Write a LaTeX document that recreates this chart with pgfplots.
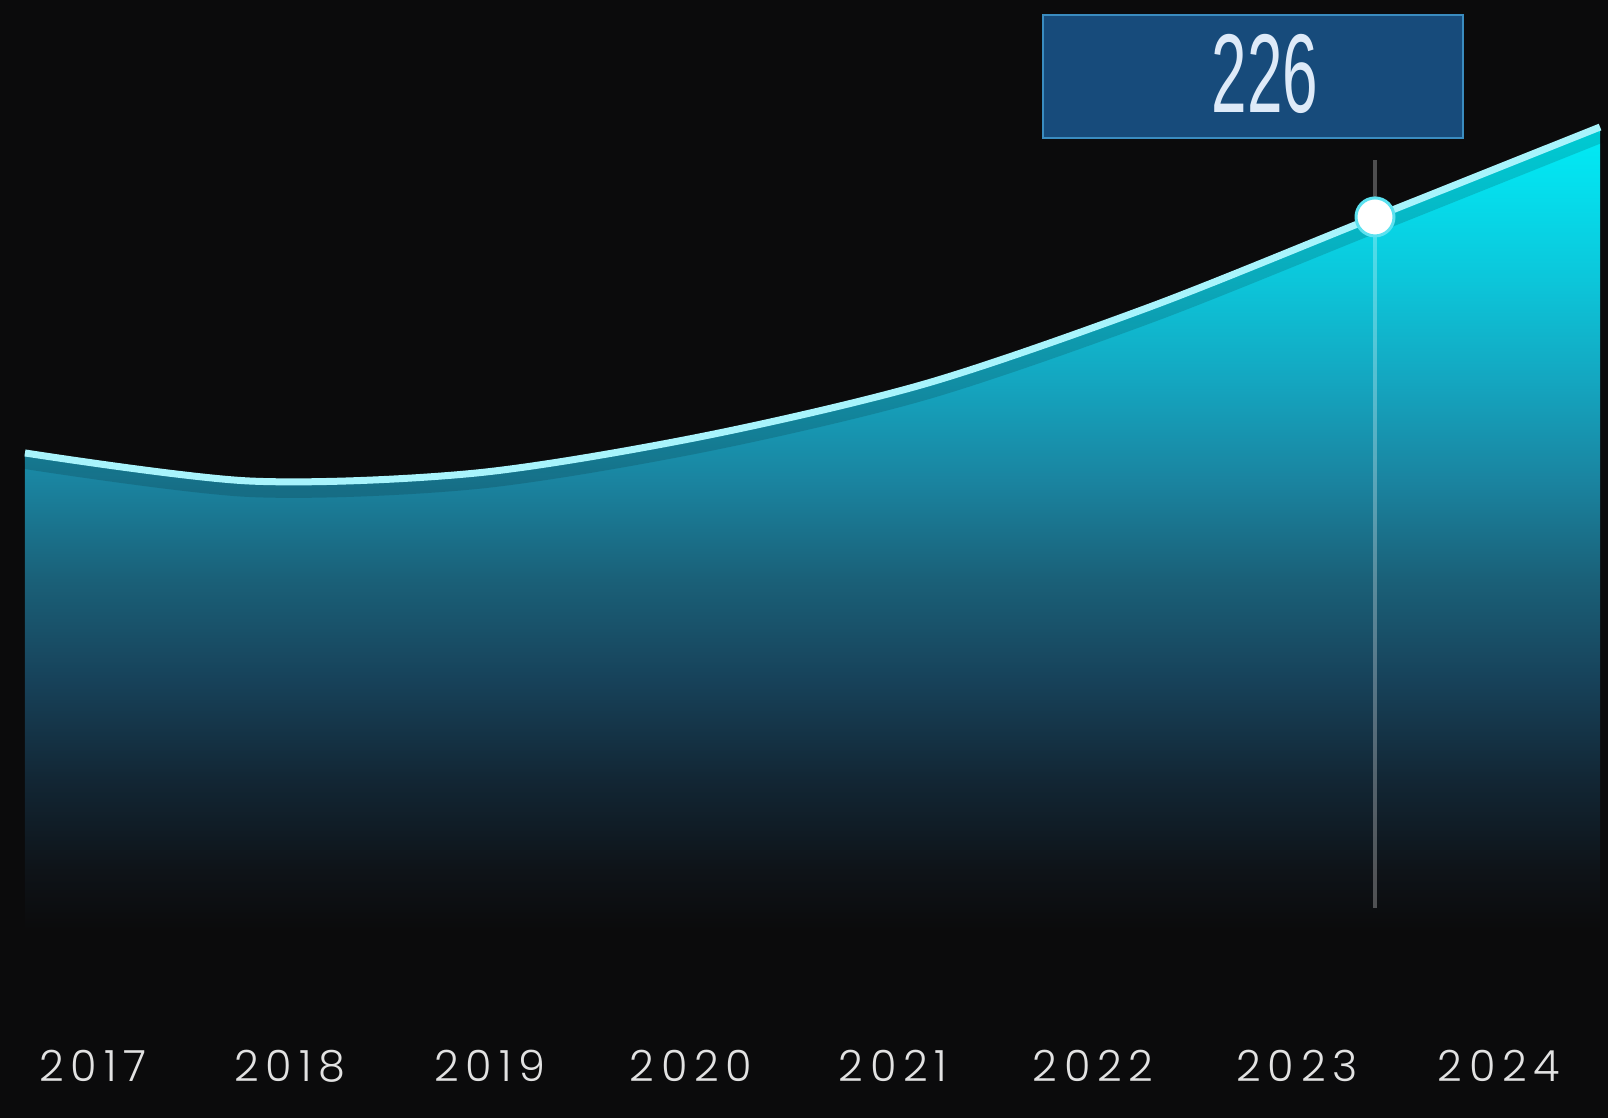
\documentclass[border=0pt]{standalone}
\usepackage{graphicx}
\usepackage{pgfplots}
\pgfplotsset{compat=1.18}
\usepackage{fontspec}
\setmainfont{Liberation Sans}
\newfontfamily\yearfont{Poppins}[UprightFont=* Light, LetterSpace=16]

\definecolor{bg}{HTML}{0B0B0C}
\definecolor{linec}{HTML}{A8F4FC}
\definecolor{boxfill}{HTML}{174B7B}
\definecolor{boxedge}{HTML}{3A8CC0}
\definecolor{markedge}{HTML}{5CE2F0}
\definecolor{yearc}{HTML}{E2E2E2}

\pgfdeclareverticalshading{areashade}{100bp}{%
  color(0bp)=(bg); color(25bp)=(bg);
  color(28.7bp)=({rgb,255:red,14;green,19;blue,24});
  color(34.3bp)=({rgb,255:red,18;green,38;blue,52});
  color(40.6bp)=({rgb,255:red,23;green,66;blue,90});
  color(46.8bp)=({rgb,255:red,26;green,96;blue,120});
  color(53bp)=({rgb,255:red,26;green,132;blue,160});
  color(59.2bp)=({rgb,255:red,20;green,166;blue,192});
  color(65.5bp)=({rgb,255:red,12;green,198;blue,218});
  color(71.7bp)=({rgb,255:red,4;green,224;blue,238});
  color(75bp)=({rgb,255:red,0;green,236;blue,246});
  color(100bp)=({rgb,255:red,0;green,236;blue,246})}

\begin{document}
\begin{tikzpicture}
  \fill[bg] (0,-44pt) rectangle (804pt,515pt);
  \useasboundingbox (0,-44pt) rectangle (804pt,515pt);
  \begin{axis}[
      scale only axis,
      width=804pt, height=515pt,
      xmin=2016.889, xmax=2024.0356,
      ymin=-31.7, ymax=294.77,
      axis line style={draw=none},
      tick style={draw=none},
      ytick=\empty,
      xtick={2017.302,2018.178,2019.067,2019.96,2020.858,2021.747,2022.653,2023.551},
      xticklabels={2017,2018,2019,2020,2021,2022,2023,2024},
      xticklabel style={anchor=base, yshift=-26pt, text=yearc,
        font=\yearfont\fontsize{21.5pt}{24pt}\selectfont},
      clip=false,
    ]
    % gradient area under the curve
    \addplot[smooth, draw=none, shading=areashade] coordinates {
      (2017,151.2) (2018,142.3) (2019,144.8) (2020,156.3)
      (2021,173.1) (2022,197.5) (2023,226) (2024,254.5)
    } \closedcycle;
    % soft shadow under the line
    \addplot[smooth, black, opacity=0.14, line width=9pt, yshift=-3.5pt] coordinates {
      (2017,151.2) (2018,142.3) (2019,144.8) (2020,156.3)
      (2021,173.1) (2022,197.5) (2023,226) (2024,254.5)
    };
    % vertical guide
    \addplot[white, opacity=0.28, line width=2pt] coordinates {
      (2023,7) (2023,244)
    };
    % the line
    \addplot[smooth, linec, line width=3.5pt] coordinates {
      (2017,151.2) (2018,142.3) (2019,144.8) (2020,156.3)
      (2021,173.1) (2022,197.5) (2023,226) (2024,254.5)
    };
    % highlighted point
    \addplot[only marks, mark=*, mark size=9.5pt,
      mark options={fill=white, draw=markedge, line width=1.5pt}]
      coordinates {(2023,226)};
  \end{axis}
  % value box
  \draw[fill=boxfill, draw=boxedge, line width=1pt]
    (521.5pt,446pt) rectangle (731.5pt,507.5pt);
  \node[text={rgb,255:red,222;green,234;blue,248}, inner sep=0pt]
    at (632.5pt,478pt)
    {\scalebox{0.57}[1]{\fontsize{56pt}{60pt}\selectfont 226}};
\end{tikzpicture}
\end{document}
